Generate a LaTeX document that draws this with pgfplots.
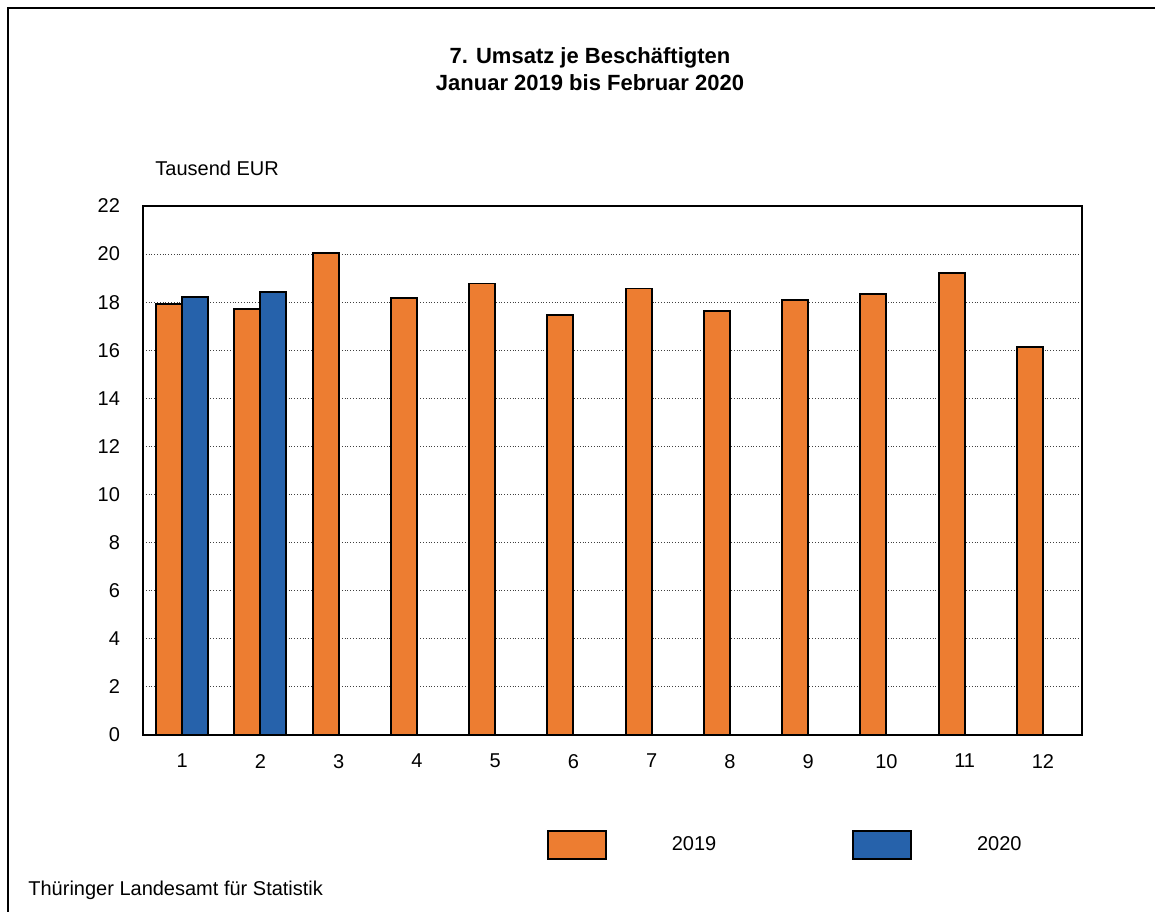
\documentclass[border=0pt]{standalone}
\usepackage{fontspec}
\setmainfont{Liberation Sans}
\usepackage{pgfplots}
\pgfplotsset{compat=1.18}
\definecolor{tlsorange}{HTML}{ED7D31}
\definecolor{tlsblue}{HTML}{2662AB}
\begin{document}
\begin{tikzpicture}
\useasboundingbox (-71.5pt,-88pt) rectangle (506pt,367.5pt);
\draw[line width=1pt] (-67.5pt,-100pt) -- (-67.5pt,363.5pt) -- (520pt,363.5pt);
\node[align=center,font=\fontsize{11}{13.5}\selectfont\bfseries] at (223.5pt,333pt)
  {7. Umsatz je Beschäftigten\\Januar 2019 bis Februar 2020};
\node[anchor=west,inner sep=0pt,font=\fontsize{10}{12}\selectfont] at (6pt,283.5pt) {Tausend EUR};
\node[anchor=west,inner sep=0pt,font=\fontsize{10}{12}\selectfont] at (-57.5pt,-77.5pt) {Thüringer Landesamt für Statistik};
\begin{axis}[
  at={(0pt,0pt)},anchor=south west,
  scale only axis,width=469.5pt,height=264.5pt,
  xmin=0.5,xmax=12.5,ymin=0,ymax=22,
  ybar=0pt,bar width=13pt,
  xtick={1,...,12},ytick={0,2,...,22},
  major tick length=0pt,
  ymajorgrids,major grid style={densely dotted,black!75,line width=0.5pt},
  axis line style={line width=1pt},
  tick label style={font=\fontsize{10}{12}\selectfont},
  /pgf/number format/assume math mode=true,
  yticklabel style={xshift=-8pt},
  xticklabel style={yshift=-6pt},
  legend columns=2,
  legend image code/.code={%
    \draw[#1,line width=0.8pt] (0pt,-7pt) rectangle (29pt,7pt);
    \path[draw=none,fill=none] (0pt,0pt) (62pt,0pt);},
  legend style={draw=none,fill=none,inner sep=0pt,outer sep=0pt,
    at={(axis description cs:0.4302,-0.208)},anchor=west,
    font=\fontsize{10}{12}\selectfont,
    nodes={inner sep=0pt},
    /tikz/every even column/.append style={column sep=68pt}},
]
\addplot[fill=tlsorange,draw=black,line width=0.9pt] coordinates {
  (1,17.92) (2,17.71) (3,20.05) (4,18.16) (5,18.78) (6,17.46)
  (7,18.57) (8,17.64) (9,18.09) (10,18.35) (11,19.20) (12,16.12)};
\addplot[fill=tlsblue,draw=black,line width=0.9pt] coordinates {
  (1,18.22) (2,18.41)};
\legend{2019,2020}
\end{axis}
\end{tikzpicture}
\end{document}
